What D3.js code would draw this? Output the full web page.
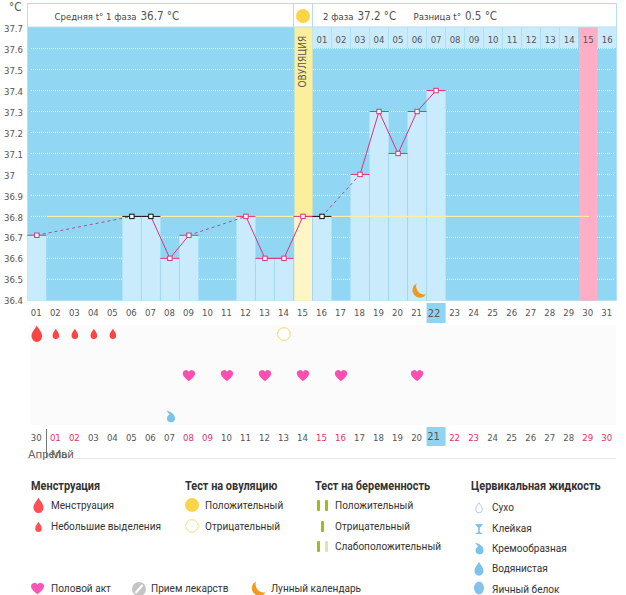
<!DOCTYPE html>
<html><head><meta charset="utf-8">
<style>
html,body{margin:0;padding:0;background:#fff}
svg{display:block}
.c{font-family:"DejaVu Sans",sans-serif;font-stretch:condensed}
.l{font-family:Roboto,sans-serif;fill:#333}
</style>
<script src="https://cdn.jsdelivr.net/npm/d3@7/dist/d3.min.js"></script>
</head><body><svg id="s" width="626" height="595"></svg>
<script>
const days=d3.range(1,32);
const dayLabels=["01","02","03","04","05","06","07","08","09","10","11","12","13","14","15","16","17","18","19","20","21","22","23","24","25","26","27","28","29","30","31"];
const phaseTwoLabels=["01","02","03","04","05","06","07","08","09","10","11","12","13","14","15","16"];
const calendarLabels=["30","01","02","03","04","05","06","07","08","09","10","11","12","13","14","15","16","17","18","19","20","21","22","23","24","25","26","27","28","29","30"];
const pinkCalendarIdx=[1,2,8,9,15,16,22,23,29,30];
const tempDays=[1,6,7,8,9,12,13,14,15,16,18,19,20,21,22];
const tempVals=[36.71,36.8,36.8,36.6,36.71,36.8,36.6,36.6,36.8,36.8,37.0,37.3,37.1,37.3,37.4];
const excludedDays=[6,7,16];
const yTicks=[36.4,36.5,36.6,36.7,36.8,36.9,37,37.1,37.2,37.3,37.4,37.5,37.6,37.7];
const coverline=36.8, ovulationDay=15, delayDay=30, todayDay=22;
const menstruationDays=[1,2,3,4,5], heavyDays=[1];
const negOvTestDays=[14], heartDays=[9,11,13,15,17,21], creamyDays=[8], moonDays=[21];

const svg=d3.select("#s");
const x=d3.scaleBand().domain(days).range([27.3,616.7]);
const y=d3.scaleLinear().domain([36.4,37.7]).range([300.3,27.6]);
const BOTTOM=300.7;
const w=x.bandwidth(), cx=d=>x(d)+w/2;
const BLUE="#91d7f4",BAR="#c9ebfb",PINK="#ffaec6",YEL="#fdee9c",YEL2="#fff6c8",LINE="#d9337f";

// paths
const drop="M0,-8.5C1.5,-5 5.3,-2.2 5.3,2.3A5.3,5.6 0 0 1 -5.3,2.3C-5.3,-2.2 -1.5,-5 0,-8.5Z";
const heart="M0,6.2C-2,4.2 -6.2,1.7 -6.2,-1.8A3.3,3.3 0 0 1 0,-3.2A3.3,3.3 0 0 1 6.2,-1.8C6.2,1.7 2,4.2 0,6.2Z";
const moon="M-2,-7.5A7.5,7.5 0 1 0 7.5,3.5A8.5,8.5 0 0 1 -2,-7.5Z";
const cream="M-4,-6.5C0,-5.5 4.5,-3 4.5,1A4,4 0 0 1 -3.5,1.5C-3.5,-1 -1.5,-2 -1,-2.5C-1.5,-3.5 -3,-5 -4,-6.5Z";

// background
const g=svg.append("g");
g.append("rect").attr("x",x(1)).attr("y",27).attr("width",x.range()[1]-x(1)).attr("height",BOTTOM-27).attr("fill",BLUE);
// y grid
g.selectAll(".gr").data(yTicks.filter(t=>t>36.4&&t<37.7)).join("line")
 .attr("x1",31).attr("x2",615).attr("y1",d=>y(d)).attr("y2",d=>y(d))
 .attr("stroke","#fff").attr("stroke-opacity",.9).attr("stroke-dasharray","1,1");
// special columns
g.append("rect").attr("x",x(ovulationDay)+1).attr("y",27).attr("width",w-1).attr("height",BOTTOM-27).attr("fill",YEL);
g.append("rect").attr("x",x(delayDay)+.5).attr("y",27).attr("width",w-1).attr("height",BOTTOM-27).attr("fill",PINK);
// phase two header row
const p2=d3.range(16,32);
g.selectAll(".p2").data(p2.filter(d=>d!==delayDay)).join("rect")
 .attr("x",d=>x(d)).attr("y",27).attr("width",w-.5).attr("height",21).attr("fill",BAR);
// bars
g.selectAll(".bar").data(tempDays).join("rect")
 .attr("x",d=>x(d)+(d===ovulationDay?1:0)).attr("width",d=>w-(d===ovulationDay?1:0))
 .attr("y",(d,i)=>y(tempVals[i])).attr("height",(d,i)=>BOTTOM-y(tempVals[i]))
 .attr("fill",d=>d===ovulationDay?YEL2:BAR);
// separators
g.selectAll(".sep").data(tempDays.filter(d=>tempDays.includes(d-1))).join("line")
 .attr("x1",d=>x(d)).attr("x2",d=>x(d)).attr("y1",d=>y(Math.min(tempVals[tempDays.indexOf(d)],tempVals[tempDays.indexOf(d-1)]))).attr("y2",BOTTOM)
 .attr("stroke","#a3d9f2").attr("stroke-width",1);
// coverline
g.append("line").attr("x1",47).attr("x2",589).attr("y1",y(coverline)).attr("y2",y(coverline)).attr("stroke","#fff19f").attr("stroke-width",1);
// header boxes
g.append("rect").attr("x",27.5).attr("y",3.5).attr("width",266).attr("height",23.5).attr("fill","#fff").attr("stroke","#b5dfee");
g.append("rect").attr("x",293.5).attr("y",3.5).attr("width",19).attr("height",23.5).attr("fill","#fff").attr("stroke","#b5dfee");
g.append("rect").attr("x",312.5).attr("y",3.5).attr("width",304).attr("height",23.5).attr("fill","#fff").attr("stroke","#b5dfee");
g.append("circle").attr("cx",cx(ovulationDay)).attr("cy",16).attr("r",7).attr("fill","#fad548");
// header text
function hdr(xp,a,b){const t=svg.append("text").attr("class","c").attr("x",xp).attr("y",20).attr("fill","#444").attr("font-size",9.5);
 t.append("tspan").text(a);t.append("tspan").attr("dx",4).attr("font-size",11.5).attr("fill","#555").text(b);}
hdr(54.5,"Средняя t° 1 фаза","36.7 °C");hdr(323,"2 фаза","37.2 °C");hdr(413.5,"Разница t°","0.5 °C");
svg.append("text").attr("class","c").attr("transform",`translate(${cx(ovulationDay)+3},87.5) rotate(-90)`).attr("font-size",10).attr("fill","#555").text("ОВУЛЯЦИЯ");
svg.append("text").attr("class","c").attr("x",9).attr("y",11).attr("font-size",11.5).attr("fill","#555").text("°C");
// phase 2 labels
svg.selectAll(".p2t").data(phaseTwoLabels).join("text").attr("class","c")
 .attr("x",(d,i)=>cx(16+i)).attr("y",43).attr("text-anchor","middle").attr("font-size",9.5).attr("fill","#555").text(d=>d);
// y axis
const ax=svg.append("g").attr("transform","translate(23,0)").call(d3.axisLeft(y).tickValues(yTicks).tickSize(0).tickPadding(0).tickFormat(d=>d===37?"37":d3.format(".1f")(d)));
ax.select(".domain").remove();
ax.selectAll("text").attr("class","c").attr("font-family","DejaVu Sans").attr("font-size",9.5).attr("fill","#555").attr("text-anchor","start").attr("x",-19).attr("dy","0.38em");
// x axis top
svg.append("rect").attr("x",x(todayDay)).attr("y",303).attr("width",w).attr("height",20).attr("fill","#8fd5f1");
const ax2=svg.append("g").attr("transform","translate(0,309)").call(d3.axisBottom(x).tickSize(0).tickPadding(0).tickFormat((d,i)=>dayLabels[i]));
ax2.select(".domain").remove();
ax2.selectAll("text").attr("class","c").attr("font-family","DejaVu Sans").attr("font-size",d=>d===todayDay?11:9.5).attr("fill","#555").attr("dy","0.71em").attr("y",0).attr("x",d=>d===todayDay?-2:-.5);
// line
const lg=svg.append("g");
const pts=tempDays.map((d,i)=>({d,v:tempVals[i]}));
const segs=d3.pairs(pts);
lg.selectAll(".seg").data(segs).join("line")
 .attr("x1",d=>cx(d[0].d)).attr("y1",d=>y(d[0].v)).attr("x2",d=>cx(d[1].d)).attr("y2",d=>y(d[1].v))
 .attr("stroke",d=>d[1].d-d[0].d>1?"#a5519f":(d[0].v===d[1].v?"#e8455f":LINE)).attr("stroke-width",1)
 .attr("stroke-dasharray",d=>d[1].d-d[0].d>1?"3,3":null);
lg.selectAll(".dash").data(pts).join("line")
 .attr("x1",d=>x(d.d)).attr("x2",d=>x(d.d)+w).attr("y1",d=>y(d.v)).attr("y2",d=>y(d.v))
 .attr("stroke",d=>excludedDays.includes(d.d)?"#111":"#e0336f").attr("stroke-width",1);
lg.selectAll(".pt").data(pts).join("rect")
 .attr("x",d=>cx(d.d)-2.2).attr("y",d=>y(d.v)-2.2).attr("width",4.4).attr("height",4.4)
 .attr("fill","#fff").attr("stroke",d=>excludedDays.includes(d.d)?"#111":"#d9337f").attr("stroke-width",1);
// moon in chart
svg.selectAll(".mn").data(moonDays).join("path").attr("d",moon).attr("fill","#ef9a1e")
 .attr("transform",d=>`translate(${cx(d)+1.5},291)`);
// lower panel
svg.append("rect").attr("x",30).attr("y",325).attr("width",586).attr("height",100).attr("fill","#fbfbfb");
const rowY1=334,rowY2=375,rowY3=417;
svg.selectAll(".dr").data(menstruationDays).join("path").attr("d",drop).attr("fill","#fb4444")
 .attr("transform",d=>`translate(${cx(d)},${rowY1}) scale(${heavyDays.includes(d)?1:.62})`);
svg.selectAll(".ot").data(negOvTestDays).join("circle").attr("cx",cx).attr("cy",rowY1).attr("r",6.3).attr("fill","#fff").attr("stroke","#f6d765");
svg.selectAll(".ht").data(heartDays).join("path").attr("d",heart).attr("fill","#fd4fb0").attr("transform",d=>`translate(${cx(d)},${rowY2})`);
svg.selectAll(".cr").data(creamyDays).join("path").attr("d",cream).attr("fill","#7cc2ea").attr("transform",d=>`translate(${cx(d)+.5},${rowY3})`);
// calendar axis
svg.append("rect").attr("x",x(22)).attr("y",427).attr("width",w).attr("height",19).attr("fill","#8fd5f1");
svg.selectAll(".cal").data(calendarLabels).join("text").attr("class","c")
 .attr("x",(d,i)=>cx(i+1)-(i===21?2.5:.5)).attr("y",(d,i)=>i===21?440:441).attr("text-anchor","middle")
 .attr("font-size",(d,i)=>i===21?11:9.5).attr("fill",(d,i)=>pinkCalendarIdx.includes(i)?"#d9336b":"#555").text(d=>d);
svg.append("line").attr("x1",46.5).attr("x2",46.5).attr("y1",429).attr("y2",458).attr("stroke","#777");
svg.append("line").attr("x1",27).attr("x2",616).attr("y1",458.5).attr("y2",458.5).attr("stroke","#e8e8e8");
svg.append("text").attr("class","l").attr("x",28).attr("y",458).attr("font-size",11.5).style("fill","#666").text("Апрель");
svg.append("text").attr("class","l").attr("x",51).attr("y",458).attr("font-size",11.5).style("fill","#666").text("Май");
// legend
const head=(t,xp)=>svg.append("text").attr("class","l").attr("transform",`translate(${xp},490) scale(.91,1)`).attr("font-size",12).attr("font-weight",700).text(t);
const item=(t,xp,yp)=>svg.append("text").attr("class","l").attr("transform",`translate(${xp},${yp}) scale(.875,1)`).attr("font-size",11.5).text(t);
const ic=(d,fill,xp,yp,s=1)=>svg.append("path").attr("d",d).attr("fill",fill).attr("transform",`translate(${xp},${yp}) scale(${s})`);
head("Менструация",31);head("Тест на овуляцию",185);head("Тест на беременность",315);head("Цервикальная жидкость",471);
ic(drop,"#fb5055",38.5,505.5,.95);item("Менструация",51,509);
ic(drop,"#fb5055",38.5,527,.62);item("Небольшие выделения",51,530);
svg.append("circle").attr("cx",192).attr("cy",505).attr("r",7).attr("fill","#fcd44c");item("Положительный",205,509);
svg.append("circle").attr("cx",192).attr("cy",526).attr("r",6.3).attr("fill","#fff").attr("stroke","#f6dd7a");item("Отрицательный",205,530);
const bar=(xp,yp,f)=>svg.append("rect").attr("x",xp).attr("y",yp).attr("width",3).attr("height",11).attr("rx",1).attr("fill",f);
bar(317,500,"#9cbc20");bar(325,500,"#9cbc20");item("Положительный",335,509);
bar(321,521,"#9cbc20");item("Отрицательный",335,530);
bar(317,541,"#9cbc20");bar(325,541,"#dde5ae");item("Слабоположительный",335,550);
ic(drop,"none",479,508,.62).attr("stroke","#9cc7e8").attr("stroke-width",1.4);item("Сухо",492,511);
svg.append("path").attr("d","M-4,-5H4L.8,-1V3L4,5H-4L-.8,3V-1Z").attr("fill","#7cc2ea").attr("transform","translate(479,529)");item("Клейкая",492,532);
ic(cream,"#7cc2ea",479,549);item("Кремообразная",492,552);
ic(drop,"#7cc2ea",479,569,.85);item("Водянистая",492,572);
svg.append("ellipse").attr("cx",479).attr("cy",588).attr("rx",5).attr("ry",6.5).attr("fill","#84c3ee");item("Яичный белок",492,593);
ic(heart,"#fd55b5",37.5,588,1.05);item("Половой акт",51,592);
svg.append("circle").attr("cx",139).attr("cy",589).attr("r",7).attr("fill","#c4c4c4");
svg.append("line").attr("x1",135.5).attr("y1",593).attr("x2",142.5).attr("y2",585).attr("stroke","#fff").attr("stroke-width",2);
item("Прием лекарств",151,592);
ic(moon,"#f39a1c",258,589);item("Лунный календарь",271,592);
</script></body></html>
